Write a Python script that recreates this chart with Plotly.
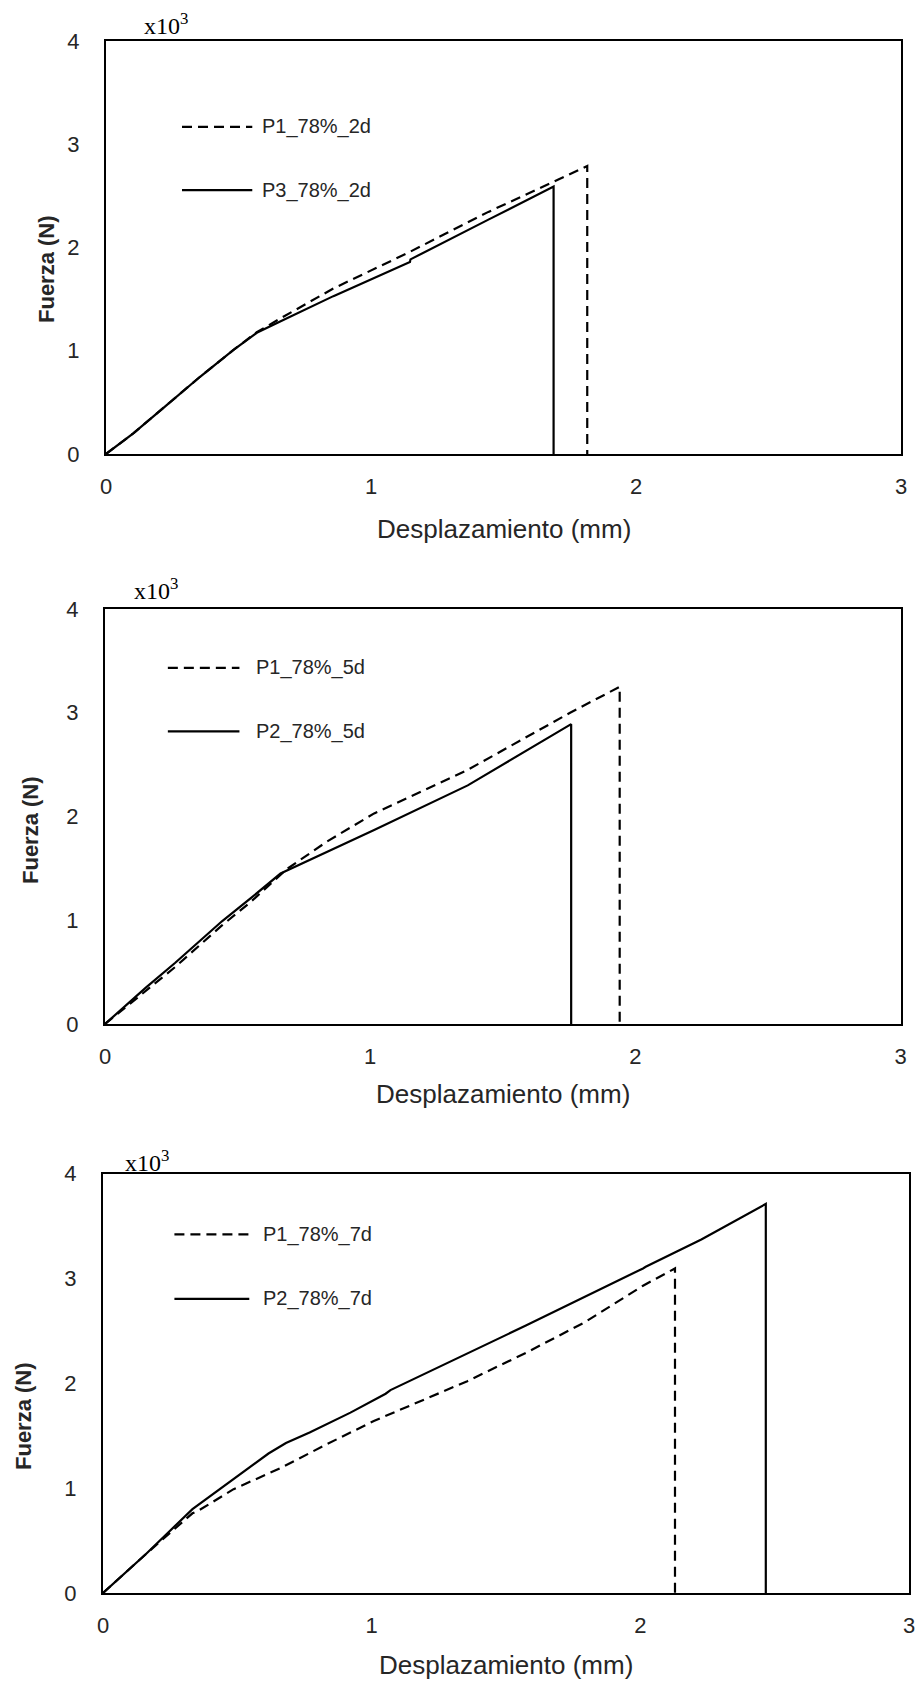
import plotly.graph_objects as go

# ---------------- data (displacement in mm, force in N) ----------------
# Panel 1 (2 days)
p1_2d_x = [0.0, 0.103, 0.229, 0.355, 0.48, 0.569, 0.669, 0.858, 1.147, 1.443, 1.707, 1.816, 1.816]
p1_2d_y = [0, 200, 474, 748, 1006, 1180, 1329, 1603, 1958, 2345, 2658, 2790, 0]
p3_2d_x = [0.0, 0.103, 0.229, 0.355, 0.48, 0.569, 0.669, 0.858, 1.147, 1.149, 1.443, 1.689, 1.689]
p3_2d_y = [0, 200, 474, 748, 1006, 1174, 1297, 1529, 1860, 1885, 2270, 2590, 0]

# Panel 2 (5 days)
p1_5d_x = [0.0, 0.154, 0.265, 0.441, 0.551, 0.684, 0.838, 1.015, 1.368, 1.754, 1.941, 1.941]
p1_5d_y = [0, 320, 550, 950, 1180, 1490, 1760, 2030, 2450, 3000, 3250, 0]
p2_5d_x = [0.0, 0.154, 0.265, 0.441, 0.551, 0.662, 1.015, 1.368, 1.758, 1.758]
p2_5d_y = [0, 350, 590, 990, 1215, 1450, 1870, 2300, 2890, 0]

# Panel 3 (7 days)
p1_7d_x = [0.0, 0.159, 0.333, 0.355, 0.486, 0.66, 0.834, 1.008, 1.356, 1.574, 1.792, 2.01, 2.129, 2.129]
p1_7d_y = [0, 370, 760, 785, 990, 1190, 1420, 1640, 2020, 2290, 2580, 2930, 3095, 0]
p2_7d_x = [0.0, 0.159, 0.333, 0.42, 0.529, 0.616, 0.681, 0.769, 0.921, 1.052, 1.07, 1.574, 2.01, 2.02, 2.227, 2.467, 2.467]
p2_7d_y = [0, 370, 800, 965, 1165, 1330, 1430, 1530, 1720, 1900, 1935, 2550, 3095, 3110, 3370, 3710, 0]

panel_series = [
    [("P1_78%_2d", p1_2d_x, p1_2d_y, "dash"), ("P3_78%_2d", p3_2d_x, p3_2d_y, "solid")],
    [("P1_78%_5d", p1_5d_x, p1_5d_y, "dash"), ("P2_78%_5d", p2_5d_x, p2_5d_y, "solid")],
    [("P1_78%_7d", p1_7d_x, p1_7d_y, "dash"), ("P2_78%_7d", p2_7d_x, p2_7d_y, "solid")],
]

x_ticks = [0, 1, 2, 3]
y_ticks = [0, 1, 2, 3, 4]
x_title = "Desplazamiento (mm)"
y_title = "Fuerza (N)"
multiplier = "x10<sup>3</sup>"

# ---------------- layout geometry (page pixels) ----------------
W, H = 917, 1681
OFF = 0
boxes = [  # left, right, top, bottom
    (106, 901, 41, 454),
    (105, 900.5, 609, 1024),
    (103, 909, 1173.5, 1593),
]
ytitle_x = [46, 30, 23]
ytitle_y = [269, 830, 1416]
xtitle_y = [529, 1094, 1665]
mult_pos = [(142, 24), (132, 589), (123, 1161)]
# legend placement in axis-domain fractions: (x0, x1, text_x, y_dash, y_solid)
leg = [
    (0.0956, 0.184, 0.194, 0.792, 0.639),
    (0.079, 0.169, 0.187, 0.858, 0.705),
    (0.0886, 0.1815, 0.196, 0.855, 0.701),
]

TXT = "#262626"
SANS = "Liberation Sans, Arial, sans-serif"

def px(x):
    return (x - OFF) / W

def py(y):
    return 1 - (y - OFF) / H

fig = go.Figure()
layout = dict(
    template="none",
    width=W, height=H,
    margin=dict(l=0, r=0, t=0, b=0, pad=0),
    paper_bgcolor="white", plot_bgcolor="white",
    showlegend=False,
    annotations=[], shapes=[],
)

for i, series in enumerate(panel_series):
    n = "" if i == 0 else str(i + 1)
    xa, ya = "x" + n, "y" + n
    l, r, t, b = boxes[i]
    for name, xs, ys, dash in series:
        fig.add_trace(go.Scatter(
            x=xs, y=[v / 1000 for v in ys], mode="lines", name=name,
            line=dict(color="black", width=2.2, dash=("10px,6px" if dash == "dash" else "solid")),
            xaxis=xa, yaxis=ya, hoverinfo="skip"))
    layout["xaxis" + n] = dict(
        domain=[px(l), px(r)], anchor=ya, range=[0, 3], tickvals=x_ticks,
        automargin=False, showgrid=False, zeroline=False, showline=True, mirror=True,
        linecolor="black", linewidth=2, ticks="", ticklabelstandoff=12,
        tickfont=dict(family=SANS, size=22, color=TXT))
    layout["yaxis" + n] = dict(
        domain=[py(b), py(t)], anchor=xa, range=[0, 4], tickvals=y_ticks,
        automargin=False, showgrid=False, zeroline=False, showline=True, mirror=True,
        linecolor="black", linewidth=2, ticks="", ticklabelstandoff=20,
        tickfont=dict(family=SANS, size=22, color=TXT))
    # axis titles
    layout["annotations"].append(dict(
        x=px((l + r) / 2), y=py(xtitle_y[i]), xref="paper", yref="paper",
        text=x_title, showarrow=False, xanchor="center", yanchor="middle",
        font=dict(family=SANS, size=26, color=TXT)))
    layout["annotations"].append(dict(
        x=px(ytitle_x[i]), y=py(ytitle_y[i]), xref="paper", yref="paper",
        text="<b>" + y_title + "</b>", textangle=-90, showarrow=False,
        xanchor="center", yanchor="middle",
        font=dict(family=SANS, size=22, color=TXT)))
    layout["annotations"].append(dict(
        x=px(mult_pos[i][0]), y=py(mult_pos[i][1]), xref="paper", yref="paper",
        text=multiplier, showarrow=False, xanchor="left", yanchor="middle",
        font=dict(family="Liberation Serif, serif", size=24, color="black")))
    # legend samples
    x0, x1, tx, yd, ys_ = leg[i]
    for (name, _, _, dash), yy in zip(series, [yd, ys_]):
        layout["shapes"].append(dict(
            type="line", xref=xa + " domain", yref=ya + " domain",
            x0=x0, x1=x1, y0=yy, y1=yy,
            line=dict(color="black", width=2.2, dash=("10px,6px" if dash == "dash" else "solid"))))
        layout["annotations"].append(dict(
            x=tx, y=yy, xref=xa + " domain", yref=ya + " domain",
            text=name, showarrow=False, xanchor="left", yanchor="middle",
            font=dict(family=SANS, size=20, color=TXT)))

fig.update_layout(**layout)
fig.write_html(
    "out.html",
    config={"displayModeBar": False, "staticPlot": True},
    post_script="document.body.style.margin='0';document.body.style.overflow='hidden';",
)
